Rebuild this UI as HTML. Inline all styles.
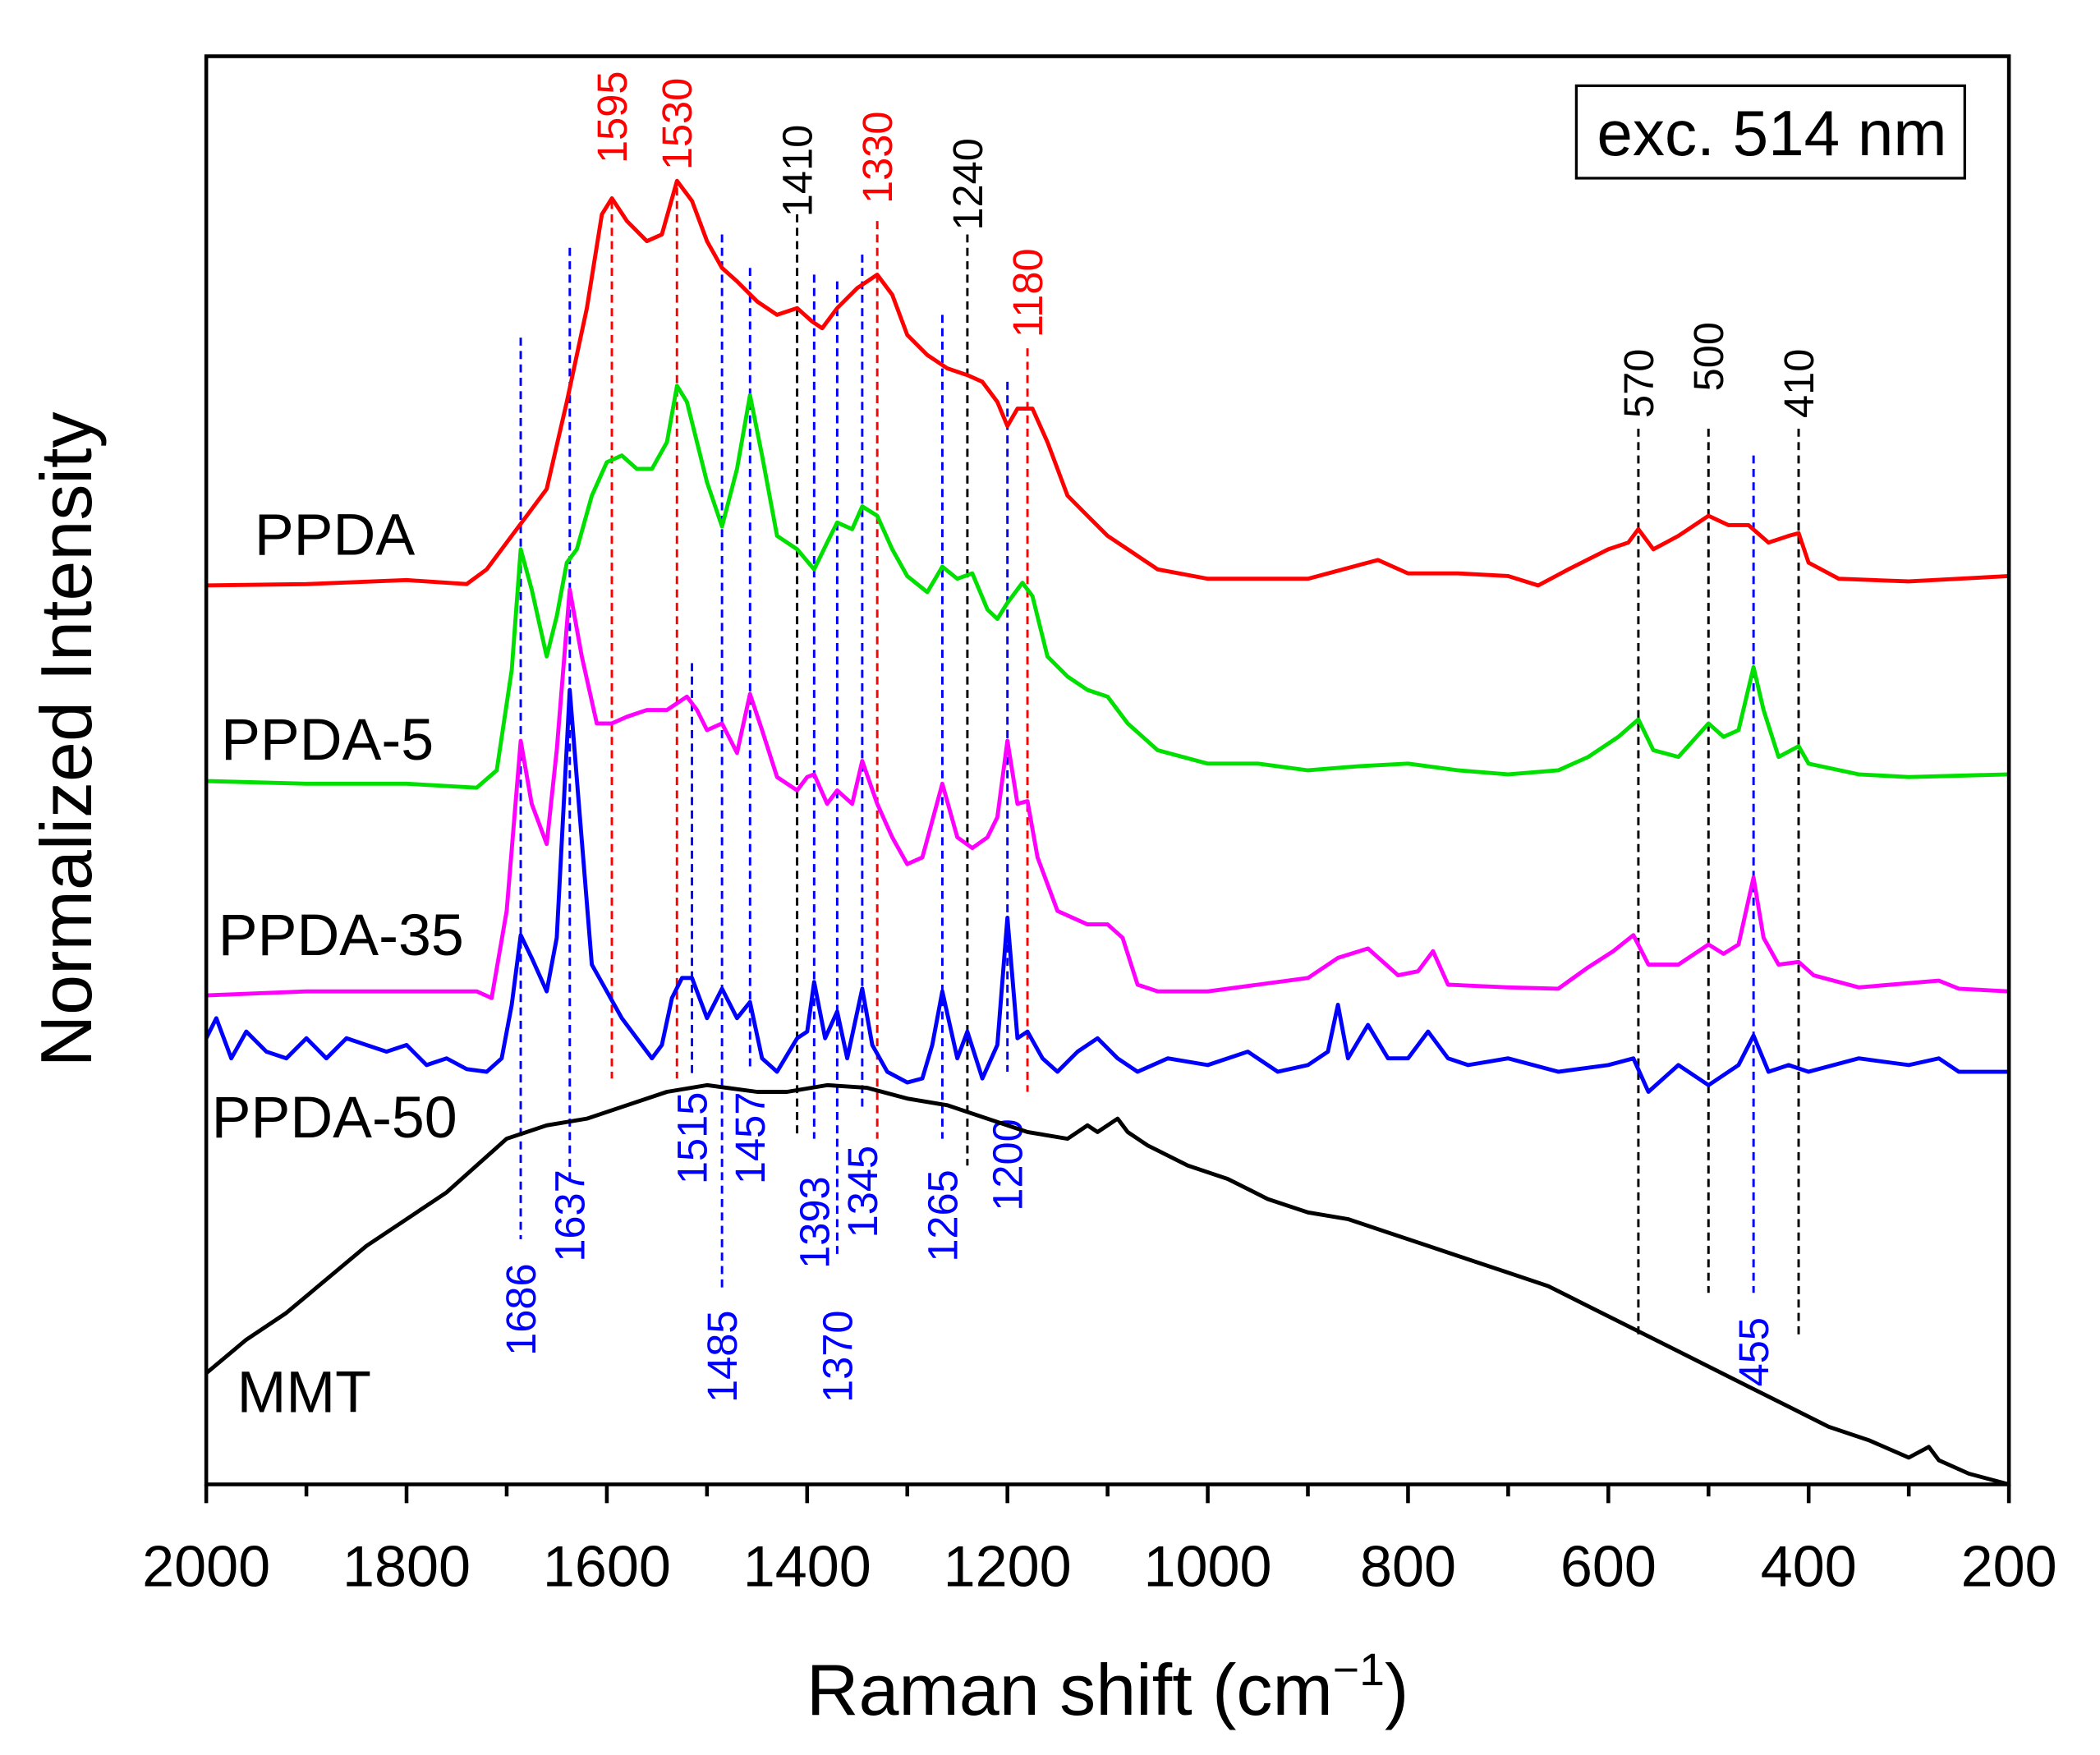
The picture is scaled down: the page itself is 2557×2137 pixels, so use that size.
<!DOCTYPE html>
<html><head><meta charset="utf-8"><style>
html,body{margin:0;padding:0;background:#fff;}
svg{display:block;font-family:"Liberation Sans",Arial,sans-serif;}
</style></head><body>
<svg id="chart" width="2557" height="2137" viewBox="0 0 1568 1310" preserveAspectRatio="none" xmlns="http://www.w3.org/2000/svg">
<rect x="0" y="0" width="1568" height="1310" fill="#fff"/>
<g id="annos"></g>
<g id="series"></g>
<rect x="154" y="42" width="1346" height="1066" fill="none" stroke="#000" stroke-width="2.8"/>
<g id="ticks"></g>
<g>
<rect x="1177" y="64" width="290" height="69" fill="#fff" stroke="#000" stroke-width="2"/>
<text x="1323" y="116" font-size="48" text-anchor="middle">exc. 514 nm</text>
</g>
<text transform="translate(68,552) rotate(-90)" font-size="54" text-anchor="middle">Normalized Intensity</text>
<text x="827" y="1280" font-size="54" text-anchor="middle">Raman shift (cm<tspan font-size="34" dy="-22">−1</tspan><tspan dy="22">)</tspan></text>
<text x="190" y="414" font-size="44">PPDA</text>
<text x="165" y="567" font-size="44">PPDA-5</text>
<text x="163" y="713" font-size="44">PPDA-35</text>
<text x="158" y="849" font-size="44">PPDA-50</text>
<text x="177" y="1054" font-size="44">MMT</text>
</svg>
<script>
// x-axis ticks
const xTicks=[2000,1800,1600,1400,1200,1000,800,600,400,200];
// Spectra: wavenumbers and intensities (intensity measured as depth-offset units, larger = lower on plot)
const ppdaX=[2000,1900,1800,1740,1720,1700,1680,1660,1640,1620,1605,1595,1580,1560,1545,1530,1515,1500,1485,1470,1450,1430,1410,1395,1385,1370,1350,1330,1315,1300,1280,1260,1240,1225,1210,1200,1190,1175,1160,1140,1120,1100,1080,1050,1000,950,900,850,830,800,750,700,670,640,600,580,570,555,530,500,480,460,440,420,410,400,370,300,200];
const ppdaY=[437,436,433,436,425,405,385,365,300,230,160,148,165,180,175,135,150,180,200,210,225,235,230,240,245,230,215,205,220,250,265,275,280,285,300,318,305,305,330,370,385,400,410,425,432,432,432,422,418,428,428,430,437,425,410,405,395,410,400,385,392,392,405,400,398,420,432,434,430];
const ppda5X=[2000,1900,1800,1730,1710,1695,1686,1675,1660,1650,1640,1630,1615,1600,1585,1570,1555,1540,1530,1520,1500,1485,1470,1457,1445,1430,1410,1393,1380,1370,1355,1345,1330,1315,1300,1280,1265,1250,1235,1220,1210,1200,1185,1175,1160,1140,1120,1100,1080,1050,1000,950,900,850,800,750,700,650,620,590,570,555,530,500,485,470,455,445,430,410,400,350,300,200];
const ppda5Y=[583,585,585,588,575,500,410,440,490,460,420,410,370,345,340,350,350,330,288,300,360,393,350,295,340,400,410,425,405,390,395,378,385,410,430,442,423,432,428,455,462,450,435,445,490,505,515,520,540,560,570,570,575,572,570,575,578,575,565,550,537,560,565,540,550,545,498,530,565,557,570,578,580,578];
const ppda35X=[2000,1900,1800,1730,1715,1700,1686,1675,1660,1650,1637,1625,1610,1595,1580,1560,1540,1520,1510,1500,1485,1470,1457,1445,1430,1410,1400,1393,1380,1370,1355,1345,1330,1315,1300,1285,1265,1250,1235,1220,1210,1200,1190,1180,1170,1150,1120,1100,1085,1070,1050,1000,950,900,870,840,810,790,775,760,700,650,620,595,575,560,530,500,485,470,455,445,430,410,395,350,270,250,200];
const ppda35Y=[743,740,740,740,745,680,553,600,630,560,440,490,540,540,535,530,530,520,530,545,540,562,518,545,580,590,580,578,600,590,600,568,600,625,645,640,585,625,633,625,610,553,600,598,640,680,690,690,700,735,740,740,735,730,715,708,728,725,710,735,737,738,722,710,698,720,720,705,712,705,655,700,720,718,728,737,732,738,740];
const ppda50X=[2000,1990,1975,1960,1940,1920,1900,1880,1860,1840,1820,1800,1780,1760,1740,1720,1705,1695,1686,1675,1660,1650,1637,1628,1615,1600,1585,1570,1555,1545,1535,1525,1515,1500,1485,1470,1457,1445,1430,1410,1400,1393,1382,1370,1360,1345,1335,1320,1300,1285,1275,1265,1250,1240,1225,1210,1200,1190,1180,1165,1150,1130,1110,1090,1070,1040,1000,960,930,900,880,870,860,840,820,800,780,760,740,700,650,600,575,560,530,500,470,455,440,420,400,350,300,270,250,200];
const ppda50Y=[775,760,790,770,785,790,775,790,775,780,785,780,795,790,798,800,790,750,698,715,740,700,515,600,720,740,760,775,790,780,745,730,730,760,738,760,748,790,800,775,770,733,775,755,790,738,780,800,808,805,780,740,790,770,805,780,685,775,770,790,800,785,775,790,800,790,795,785,800,795,785,750,790,765,790,790,770,790,795,790,800,795,790,815,795,810,795,773,800,795,800,790,795,790,800,800];
const mmtX=[2000,1960,1920,1880,1840,1800,1760,1730,1700,1660,1620,1580,1540,1500,1450,1420,1380,1340,1300,1260,1220,1180,1140,1120,1110,1090,1080,1060,1020,980,940,900,860,820,780,740,700,660,620,580,540,500,460,420,380,340,300,280,270,240,200];
const mmtY=[1025,1000,980,955,930,910,890,870,850,840,835,825,815,810,815,815,810,812,820,825,835,845,850,840,845,835,845,855,870,880,895,905,910,920,930,940,950,960,975,990,1005,1020,1035,1050,1065,1075,1088,1080,1090,1100,1108];
// Peak annotations
const peakPos=[1686,1637,1515,1485,1457,1393,1370,1345,1265,1200,455,1595,1530,1330,1180,1410,1240,570,500,410];
const peakLabels=["1686","1637","1515","1485","1457","1393","1370","1345","1265","1200","455","1595","1530","1330","1180","1410","1240","570","500","410"];
const peakColors=["blue","blue","blue","blue","blue","blue","blue","blue","blue","blue","blue","red","red","red","red","black","black","black","black","black"];
const lineTop=[252,185,495,175,200,205,210,190,235,285,340,150,140,165,260,160,175,320,320,320];
const lineBot=[925,880,805,965,800,850,940,830,850,800,965,805,805,850,815,850,870,1000,965,1000];
const labelBase=[1012,942,884,1047,884,947,1047,924,942,904,1035,122,127,152,252,162,172,312,292,312];

const X0=154,X1=1500,Y0=42,Y1=1108;
const xScale=w=>X0+(2000-w)/(2000-200)*(X1-X0);
const yScale=v=>Y0+(v-42)/(1108-42)*(Y1-Y0);
const NS="http://www.w3.org/2000/svg";
const sg=document.getElementById('series'), ag=document.getElementById('annos'), tg=document.getElementById('ticks');

function addSeries(xs,ys,color,name){
  const p=document.createElementNS(NS,'polyline');
  p.setAttribute('points',xs.map((w,i)=>xScale(w).toFixed(1)+','+yScale(ys[i]).toFixed(1)).join(' '));
  p.setAttribute('fill','none');p.setAttribute('stroke',color);p.setAttribute('stroke-width','3');p.setAttribute('stroke-linejoin','round');
  
  
  sg.appendChild(p);
}
addSeries(mmtX,mmtY,'#000','series-mmt');
addSeries(ppda50X,ppda50Y,'#0000ff','series-ppda-50');
addSeries(ppda35X,ppda35Y,'#ff00ff','series-ppda-35');
addSeries(ppda5X,ppda5Y,'#00e000','series-ppda-5');
addSeries(ppdaX,ppdaY,'#ff0000','series-ppda');

peakPos.forEach((w,i)=>{
  const x=xScale(w);
  const l=document.createElementNS(NS,'line');
  l.setAttribute('x1',x);l.setAttribute('x2',x);l.setAttribute('y1',yScale(lineTop[i]));l.setAttribute('y2',yScale(lineBot[i]));
  l.setAttribute('stroke',peakColors[i]);l.setAttribute('stroke-width','1.8');l.setAttribute('stroke-dasharray','6,4');
  
  
  ag.appendChild(l);
  const t=document.createElementNS(NS,'text');
  const tx=x+11, ty=yScale(labelBase[i]);
  t.setAttribute('transform','translate('+tx+','+ty+') rotate(-90)');
  t.setAttribute('font-size','31');t.setAttribute('fill',peakColors[i]);
  t.textContent=peakLabels[i];
  
  
  ag.appendChild(t);
});

for(let w=2000;w>=200;w-=100){
  const x=xScale(w);const major=(w%200===0);
  const l=document.createElementNS(NS,'line');
  l.setAttribute('x1',x);l.setAttribute('x2',x);l.setAttribute('y1',Y1);l.setAttribute('y2',Y1+(major?14:9));
  l.setAttribute('stroke','#000');l.setAttribute('stroke-width','2.8');
  
  
  tg.appendChild(l);
}
xTicks.forEach(w=>{
  const t=document.createElementNS(NS,'text');
  t.setAttribute('x',xScale(w));t.setAttribute('y',1184);t.setAttribute('font-size','43');t.setAttribute('text-anchor','middle');
  t.textContent=w;
  
  
  tg.appendChild(t);
});
</script>
</body></html>
